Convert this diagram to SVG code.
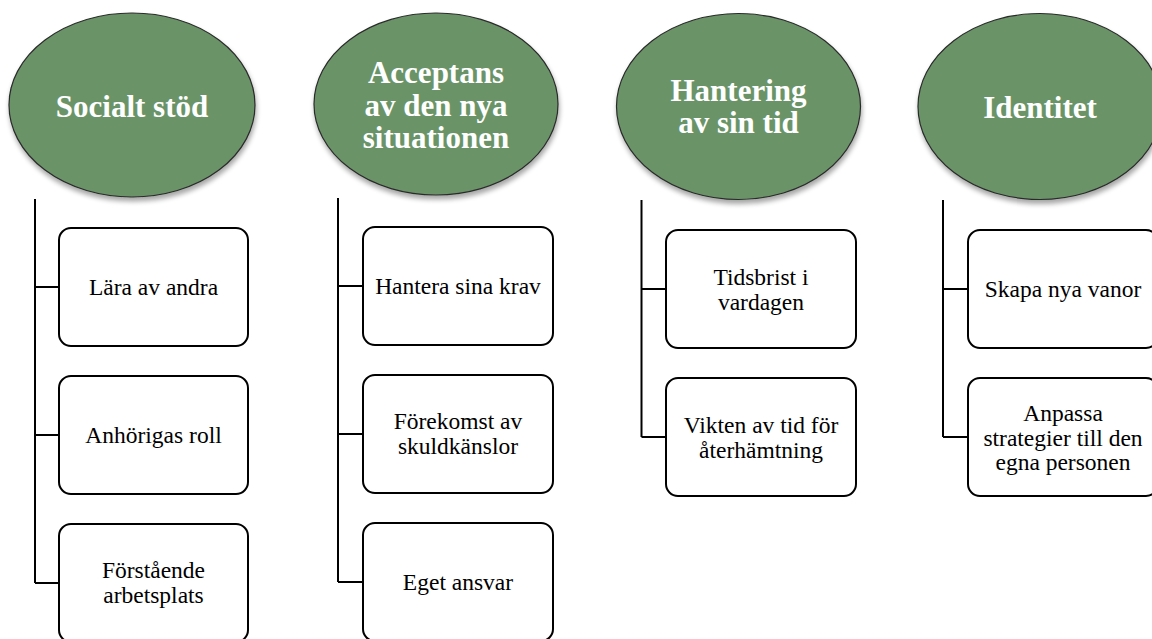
<svg xmlns="http://www.w3.org/2000/svg" width="1152" height="639" viewBox="0 0 1152 639">
<defs>
<filter id="sh" x="-10%" y="-10%" width="125%" height="130%">
<feGaussianBlur in="SourceAlpha" stdDeviation="2.5"/>
<feOffset dx="1" dy="4" result="b"/>
<feComponentTransfer><feFuncA type="linear" slope="0.35"/></feComponentTransfer>
<feMerge><feMergeNode/><feMergeNode in="SourceGraphic"/></feMerge>
</filter>
</defs>
<style>
.ell{fill:#6a9468;stroke:#2b2b2b;stroke-width:1.2;filter:url(#sh)}
.box{fill:#ffffff;stroke:#000000;stroke-width:2}
.con{fill:none;stroke:#000000;stroke-width:2}
.tt{font-weight:bold;font-size:31px;fill:#ffffff;text-anchor:middle}
.bt{font-size:23.5px;fill:#000000;text-anchor:middle}
</style>
<rect width="1152" height="639" fill="#ffffff"/>
<g id="connectors">
<path class="con" d="M35,199 V583 M35,287 H59 M35,435 H59 M35,583 H59"/>
<path class="con" d="M338,198 V582 M338,286 H363 M338,434 H363 M338,582 H363"/>
<path class="con" d="M641.5,200 V437 M641.5,289 H666 M641.5,437 H666"/>
<path class="con" d="M943,200 V437 M943,289 H968 M943,437 H968"/>
</g>
<g font-family="'Liberation Serif', Tinos, 'Times New Roman', Times, 'DejaVu Serif', serif">
<g id="n-socialt">
<ellipse class="ell" cx="132" cy="105" rx="123" ry="92"/>
<text class="tt" x="132" y="117">Socialt stöd</text>
</g>
<g id="n-acceptans">
<ellipse class="ell" cx="436" cy="104" rx="122" ry="91"/>
<text class="tt" x="436" y="83">Acceptans</text>
<text class="tt" x="436" y="115.5">av den nya</text>
<text class="tt" x="436" y="148">situationen</text>
</g>
<g id="n-hantering">
<ellipse class="ell" cx="738.5" cy="106.5" rx="122" ry="93"/>
<text class="tt" x="738.5" y="100.5">Hantering</text>
<text class="tt" x="738.5" y="133">av sin tid</text>
</g>
<g id="n-identitet">
<ellipse class="ell" cx="1040" cy="106.5" rx="122" ry="93"/>
<text class="tt" x="1040" y="118">Identitet</text>
</g>
<g id="b-lara">
<rect class="box" x="59" y="228" width="189" height="118" rx="12"/>
<text class="bt" x="153.5" y="295">Lära av andra</text>
</g>
<g id="b-anhorigas">
<rect class="box" x="59" y="376" width="189" height="118" rx="12"/>
<text class="bt" x="153.5" y="443">Anhörigas roll</text>
</g>
<g id="b-forstaende">
<rect class="box" x="59" y="524" width="189" height="118" rx="12"/>
<text class="bt" x="153.5" y="578">Förstående</text>
<text class="bt" x="153.5" y="603">arbetsplats</text>
</g>
<g id="b-hantera">
<rect class="box" x="363" y="227" width="190" height="118" rx="12"/>
<text class="bt" x="458" y="294">Hantera sina krav</text>
</g>
<g id="b-forekomst">
<rect class="box" x="363" y="375" width="190" height="118" rx="12"/>
<text class="bt" x="458" y="429">Förekomst av</text>
<text class="bt" x="458" y="454">skuldkänslor</text>
</g>
<g id="b-eget">
<rect class="box" x="363" y="523" width="190" height="118" rx="12"/>
<text class="bt" x="458" y="590">Eget ansvar</text>
</g>
<g id="b-tidsbrist">
<rect class="box" x="666" y="230" width="190" height="118" rx="12"/>
<text class="bt" x="761" y="285">Tidsbrist i</text>
<text class="bt" x="761" y="310">vardagen</text>
</g>
<g id="b-vikten">
<rect class="box" x="666" y="378" width="190" height="118" rx="12"/>
<text class="bt" x="761" y="433">Vikten av tid för</text>
<text class="bt" x="761" y="458">återhämtning</text>
</g>
<g id="b-skapa">
<rect class="box" x="968" y="230" width="190" height="118" rx="12"/>
<text class="bt" x="1063" y="297">Skapa nya vanor</text>
</g>
<g id="b-anpassa">
<rect class="box" x="968" y="378" width="190" height="118" rx="12"/>
<text class="bt" x="1063" y="421">Anpassa</text>
<text class="bt" x="1063" y="446">strategier till den</text>
<text class="bt" x="1063" y="470">egna personen</text>
</g>
</g>
</svg>
